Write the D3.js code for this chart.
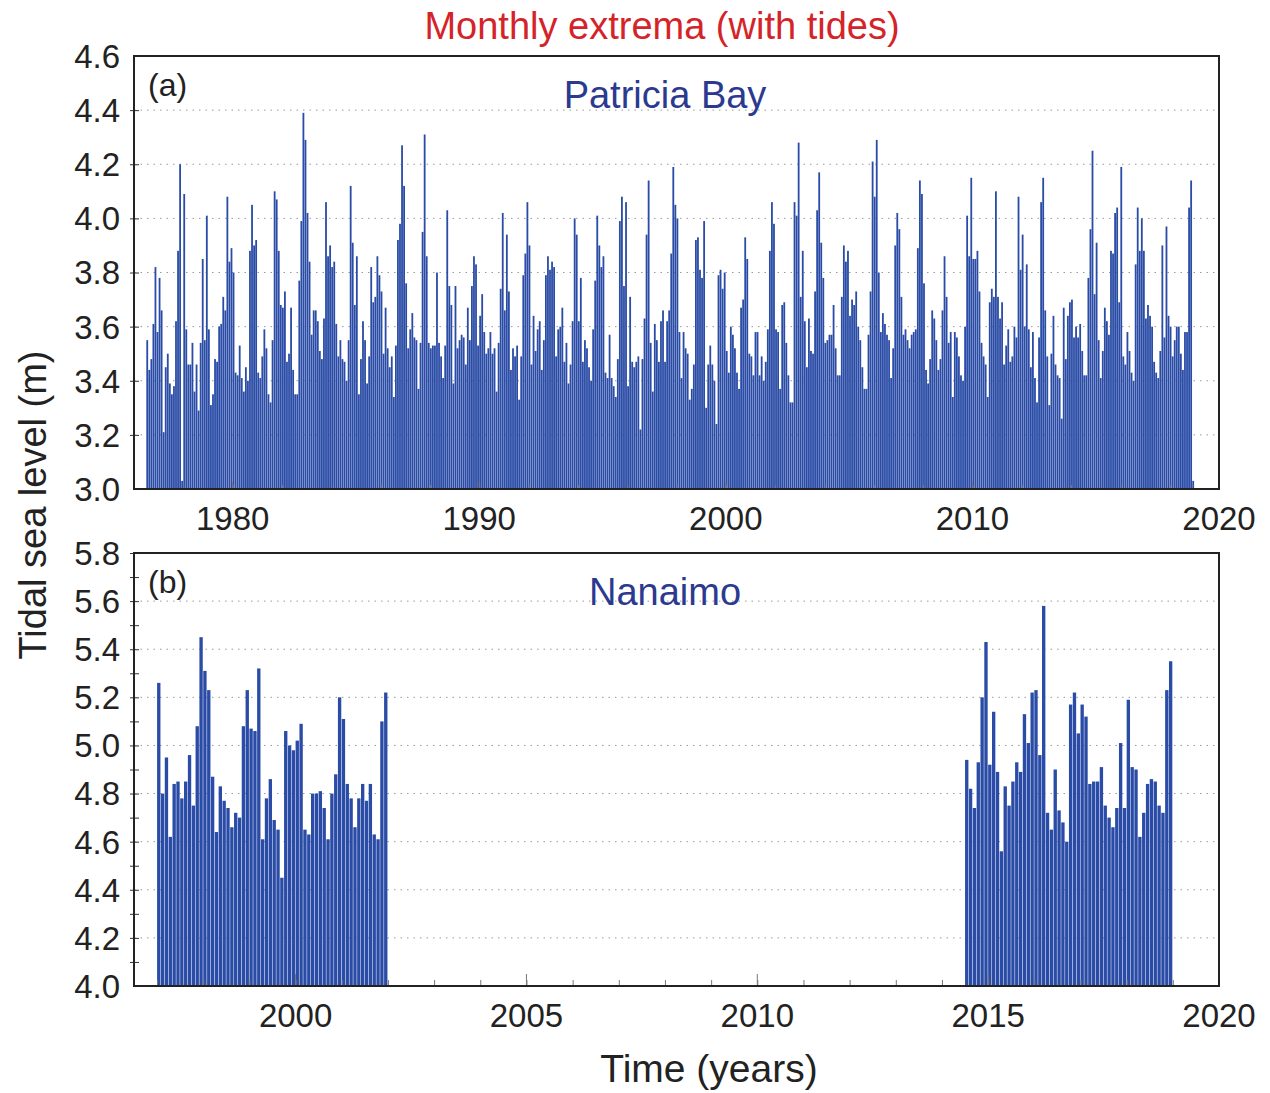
<!DOCTYPE html>
<html lang="en">
<head>
<meta charset="UTF-8">
<title>Monthly extrema (with tides)</title>
<script src="https://cdn.jsdelivr.net/npm/d3@7"></script>
<style>
  html, body { margin: 0; padding: 0; background: #fff; }
  body { font-family: 'Liberation Sans', Arial, sans-serif; }
  .grid line { stroke: #9a9a9a; stroke-width: 1; stroke-dasharray: 1.5 5; }
</style>
</head>
<body>
<svg id="chart" width="1270" height="1093"></svg>
<script>
// Patricia Bay, monthly maxima of tidal sea level (m), Jul 1976 .. Dec 2018
const patStart = [1976, 7];
const pat1976 = [
  3.55, 3.44, 3.48, 3.61, 3.82, 3.58, 3.78, 3.66, 3.21, 3.45,
  3.50, 3.39, 3.35, 3.38, 3.62, 3.88, 4.20, 3.03, 4.09, 3.59,
  3.46, 3.46, 3.54, 3.36, 3.46, 3.29, 3.54, 3.85, 3.55, 4.01,
  3.59, 3.31, 3.35, 3.48, 3.47, 3.60, 3.61, 3.71, 3.66, 4.08,
  3.84, 3.89, 3.80, 3.43, 3.42, 3.53, 3.41, 3.36, 3.45, 3.40,
  3.88, 4.05, 3.90, 3.92, 3.43, 3.41, 3.49, 3.59, 3.52, 3.35,
  3.32, 3.55, 4.10, 4.07, 3.88, 3.68, 3.67, 3.73, 3.47, 3.50,
  3.67, 3.44, 3.35, 3.35, 3.77, 3.99, 4.39, 4.29, 4.02, 3.84,
  3.57, 3.66
];
const pat1983 = [
  3.66, 3.62, 3.51, 3.48, 3.63, 4.06, 3.86, 3.90, 3.82, 3.84,
  3.61, 3.49, 3.55, 3.48, 3.47, 3.40, 3.55, 4.12, 3.91, 3.68,
  3.86, 3.35, 3.48, 3.62, 3.55, 3.39, 3.49, 3.82, 3.69, 3.71,
  3.86, 3.79, 3.73, 3.50, 3.67, 3.52, 3.45, 3.49, 3.34, 3.53,
  3.92, 3.98, 4.27, 4.12, 3.76, 3.52, 3.59, 3.65, 3.56, 3.55,
  3.37, 3.54, 3.95, 4.31, 3.86, 3.54, 3.52, 3.53, 3.53, 3.80,
  3.54, 3.49, 3.41, 3.53, 4.03, 3.75, 3.68, 3.39, 3.75, 3.52,
  3.55, 3.57, 3.56, 3.46, 3.67, 3.55, 3.75, 3.86, 3.83, 3.53,
  3.64, 3.72, 3.58, 3.50, 3.52
];
const pat1990 = [
  3.58, 3.50, 3.52, 3.36, 3.54, 3.74, 4.02, 3.66, 3.94, 3.73,
  3.44, 3.52, 3.49, 3.53, 3.33, 3.49, 3.79, 3.87, 4.06, 3.90,
  3.46, 3.64, 3.51, 3.59, 3.62, 3.44, 3.55, 3.79, 3.86, 3.81,
  3.84, 3.82, 3.49, 3.59, 3.60, 3.67, 3.47, 3.54, 3.39, 3.46,
  3.62, 4.00, 3.94, 3.62, 3.78, 3.47, 3.55, 3.52, 3.45, 3.40,
  3.59, 3.77, 4.01, 3.90, 3.82, 3.86, 3.43, 3.41, 3.57, 3.41,
  3.38, 3.34, 3.48, 3.99, 4.08, 3.75, 4.06, 3.38, 3.71, 3.47,
  3.45, 3.47, 3.49, 3.22, 3.48, 3.63, 3.94, 4.14, 3.54, 3.36,
  3.61, 3.55, 3.47, 3.62, 3.66
];
const pat1997 = [
  3.47, 3.62, 3.66, 3.87, 4.19, 4.05, 4.00, 3.58, 3.41, 3.58,
  3.52, 3.50, 3.33, 3.37, 3.46, 3.92, 3.93, 3.81, 3.78, 3.99,
  3.30, 3.46, 3.53, 3.46, 3.40, 3.24, 3.79, 3.81, 3.74, 3.80,
  3.51, 3.43, 3.60, 3.57, 3.52, 3.43, 3.37, 3.67, 3.70, 3.93,
  3.85, 3.50, 3.49, 3.42, 3.58, 3.58, 3.42, 3.49, 3.40, 3.47,
  3.59, 3.88, 4.06, 3.98, 3.59, 3.58, 3.37, 3.68, 3.69, 3.54,
  3.42, 3.32, 3.32, 4.06, 4.01, 4.28, 3.71, 3.88, 3.62, 3.45,
  3.63, 3.51, 3.50, 3.73, 4.03, 4.17, 3.91, 3.78, 3.54, 3.55,
  3.57, 3.57, 3.68, 3.52, 3.42, 3.42, 3.71, 3.90
];
const pat2004 = [
  3.84, 3.88, 3.64, 3.70, 3.68, 3.73, 3.60, 3.55, 3.45, 3.37,
  3.37, 3.57, 3.73, 4.21, 4.08, 4.29, 3.80, 3.58, 3.65, 3.61,
  3.57, 3.55, 3.41, 3.52, 3.90, 4.02, 3.96, 3.71, 3.57, 3.59,
  3.55, 3.52, 3.57, 3.58, 3.59, 3.89, 4.14, 4.09, 3.76, 3.44,
  3.39, 3.48, 3.66, 3.63, 3.55, 3.44, 3.48, 3.66, 3.86, 3.71,
  3.54, 3.58, 3.34, 3.58, 3.56, 3.49, 3.42, 3.40, 3.60, 4.01,
  3.86, 4.15, 3.85, 3.85, 3.88, 3.73, 3.54, 3.49, 3.46, 3.34,
  3.69, 3.74, 3.71, 4.10, 3.71, 3.63, 3.69, 3.46, 3.53, 3.59,
  3.47, 3.49, 3.60, 3.56, 4.08, 3.81
];
const pat2012 = [
  3.94, 3.60, 3.83, 3.59, 3.45, 3.58, 3.41, 3.32, 3.56, 4.06,
  4.15, 3.66, 3.49, 3.31, 3.50, 3.64, 3.46, 3.42, 3.41, 3.26,
  3.67, 3.48, 3.64, 3.69, 3.70, 3.56, 3.60, 3.56, 3.61, 3.51,
  3.42, 3.42, 3.78, 3.96, 4.25, 3.72, 3.91, 3.55, 3.41, 3.51,
  3.67, 3.62, 3.57, 3.88, 3.87, 4.02, 4.04, 3.69, 4.19, 3.49,
  3.46, 3.58, 3.51, 3.43, 3.40, 3.83, 4.04, 3.88, 4.00, 3.88,
  3.63, 3.68, 3.64, 3.60, 3.47, 3.43, 3.41, 3.51, 3.90, 3.56,
  3.97, 3.64, 3.60, 3.49, 3.55, 3.60, 3.60, 3.50, 3.44, 3.58,
  3.58, 4.04, 4.14, 3.03
];

// Nanaimo, monthly maxima (m): Jan 1997 .. Dec 2001 and Jul 2014 .. Dec 2018
const nanStartA = [1997, 1];
const nanaimoA = [
  5.26, 4.80, 4.95, 4.62, 4.84, 4.85, 4.78, 4.85, 4.96, 4.75,
  5.08, 5.45, 5.31, 5.23, 4.87, 4.64, 4.83, 4.77, 4.74, 4.66,
  4.72, 4.70, 5.08, 5.23, 5.07, 5.06, 5.32, 4.61, 4.78, 4.86,
  4.69, 4.65, 4.45, 5.06, 5.00, 4.98, 5.02, 5.09, 4.65, 4.63,
  4.80, 4.80, 4.81, 4.74, 4.61, 4.80, 4.88, 5.20, 5.11, 4.84,
  4.78, 4.66, 4.78, 4.84, 4.77, 4.84, 4.63, 4.61, 5.10, 5.22
];
const nanStartB = [2014, 7];
const nanaimoB = [
  4.94, 4.82, 4.74, 4.93, 5.20, 5.43, 4.92, 5.14, 4.89, 4.56,
  4.83, 4.75, 4.85, 4.93, 4.89, 5.13, 5.01, 5.22, 5.23, 4.96,
  5.58, 4.72, 4.65, 4.90, 4.73, 4.68, 4.60, 5.17, 5.22, 5.05,
  5.17, 5.12, 4.84, 4.85, 4.85, 4.91, 4.75, 4.70, 4.66, 4.74,
  5.01, 4.74, 5.19, 4.91, 4.90, 4.62, 4.72, 4.84, 4.86, 4.85,
  4.75, 4.72, 5.23, 5.35
];

const topYTicks = [3.0, 3.2, 3.4, 3.6, 3.8, 4.0, 4.2, 4.4, 4.6];
const topXTicks = [1980, 1990, 2000, 2010, 2020];
const botYTicks = [4.0, 4.2, 4.4, 4.6, 4.8, 5.0, 5.2, 5.4, 5.6, 5.8];
const botXTicks = [2000, 2005, 2010, 2015, 2020];

function monthly(start, values) {
  return values.map((v, i) => {
    const m = start[1] - 1 + i;
    return { t: start[0] + m / 12, v: v };
  });
}

const patricia = monthly(patStart,
  [].concat(pat1976, pat1983, pat1990, pat1997, pat2004, pat2012));
const nanaimo = monthly(nanStartA, nanaimoA).concat(monthly(nanStartB, nanaimoB));

const svg = d3.select('#chart');
const barColor = '#2a4ca6';
const left = 134, right = 1219;

svg.append('text')
  .attr('x', 662).attr('y', 39)
  .attr('text-anchor', 'middle')
  .attr('font-size', 38)
  .attr('fill', '#d42429')
  .text('Monthly extrema (with tides)');

function panel(cfg) {
  const x = d3.scaleLinear().domain(cfg.xDomain).range([left, right]);
  const y = d3.scaleLinear().domain(cfg.yDomain).range([cfg.bottom, cfg.top]);
  const g = svg.append('g');

  // dotted grid
  g.append('g').attr('class', 'grid')
    .selectAll('line')
    .data(cfg.yTicks.slice(1, -1))
    .enter().append('line')
    .attr('x1', left).attr('x2', right)
    .attr('y1', d => y(d)).attr('y2', d => y(d));

  const step = x(cfg.xDomain[0] + 1 / 12) - x(cfg.xDomain[0]);
  g.append('g')
    .selectAll('rect')
    .data(cfg.data)
    .enter().append('rect')
    .attr('x', d => x(d.t))
    .attr('width', Math.max(step - cfg.gap, 0.5))
    .attr('y', d => y(d.v))
    .attr('height', d => y(cfg.yDomain[0]) - y(d.v))
    .attr('fill', barColor);

  // y axis, ticks drawn across the frame edge
  const yAxis = d3.axisRight(y)
    .tickValues(cfg.yMinor)
    .tickSize(9)
    .tickFormat('');
  g.append('g').attr('transform', `translate(${left - 4},0)`).call(yAxis)
    .call(a => a.select('.domain').remove())
    .call(a => a.selectAll('line').attr('stroke', '#333'));

  g.append('g')
    .selectAll('text')
    .data(cfg.yTicks)
    .enter().append('text')
    .attr('x', 120).attr('y', d => y(d))
    .attr('dy', '0.36em')
    .attr('text-anchor', 'end')
    .attr('font-size', 33)
    .attr('fill', '#222')
    .text(d3.format('.1f'));

  // x axis
  const xAxis = d3.axisTop(x)
    .tickValues(cfg.xMinor)
    .tickSize(cfg.minorLen)
    .tickFormat('');
  g.append('g').attr('transform', `translate(0,${cfg.bottom})`).call(xAxis)
    .call(a => a.select('.domain').remove())
    .call(a => a.selectAll('line').attr('stroke', '#777'));
  g.append('g')
    .selectAll('line')
    .data(cfg.xTicks)
    .enter().append('line')
    .attr('x1', d => x(d)).attr('x2', d => x(d))
    .attr('y1', cfg.bottom).attr('y2', cfg.bottom - cfg.majorLen)
    .attr('stroke', '#777');

  g.append('g')
    .selectAll('text')
    .data(cfg.xTicks)
    .enter().append('text')
    .attr('x', d => x(d)).attr('y', cfg.bottom + 41)
    .attr('text-anchor', 'middle')
    .attr('font-size', 33)
    .attr('fill', '#222')
    .text(d => d);

  g.append('rect')
    .attr('x', left).attr('y', cfg.top)
    .attr('width', right - left).attr('height', cfg.bottom - cfg.top)
    .attr('fill', 'none').attr('stroke', '#222').attr('stroke-width', 2);

  g.append('text')
    .attr('x', 148).attr('y', cfg.top + 40)
    .attr('font-size', 32).attr('fill', '#222')
    .text(cfg.tag);

  g.append('text')
    .attr('x', 665).attr('y', cfg.top + 52)
    .attr('text-anchor', 'middle')
    .attr('font-size', 38).attr('fill', '#2b3a8f')
    .text(cfg.name);
}

panel({
  data: patricia, name: 'Patricia Bay', tag: '(a)',
  xDomain: [1976, 2020], yDomain: [3.0, 4.6],
  top: 56, bottom: 489, gap: 0.25,
  yTicks: topYTicks, yMinor: topYTicks.slice(1, -1),
  xTicks: topXTicks, xMinor: d3.range(1976, 2020, 2),
  minorLen: 4, majorLen: 7
});

panel({
  data: nanaimo, name: 'Nanaimo', tag: '(b)',
  xDomain: [1996.5, 2020], yDomain: [4.0, 5.8],
  top: 553, bottom: 986, gap: 0.5,
  yTicks: botYTicks, yMinor: d3.range(4.1, 5.85, 0.1),
  xTicks: botXTicks, xMinor: d3.range(1997, 2020, 1),
  minorLen: 6, majorLen: 12
});

svg.append('text')
  .attr('transform', 'translate(46,505) rotate(-90)')
  .attr('text-anchor', 'middle')
  .attr('font-size', 38)
  .attr('fill', '#222')
  .text('Tidal sea level (m)');

svg.append('text')
  .attr('x', 709).attr('y', 1082)
  .attr('text-anchor', 'middle')
  .attr('font-size', 39)
  .attr('fill', '#222')
  .text('Time (years)');
</script>
</body>
</html>
